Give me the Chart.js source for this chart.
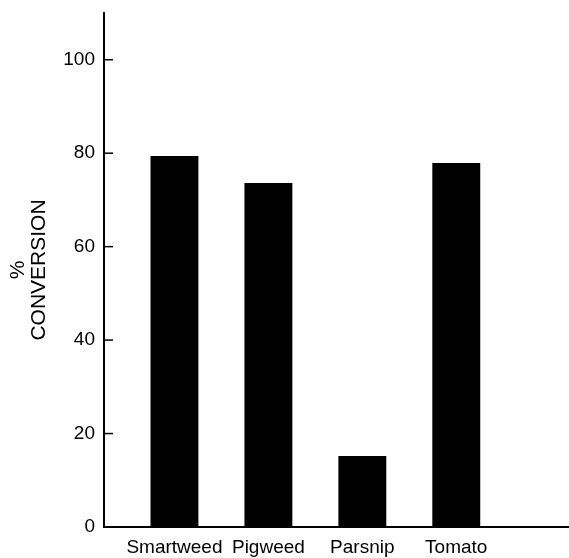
<!DOCTYPE html>
<html lang="en">
<head>
  <meta charset="UTF-8">
  <title>% Conversion</title>
  <script src="https://cdn.jsdelivr.net/npm/chart.js"></script>
  <style>
    body { margin: 0; background: #fff; }
    #wrap { width: 569px; height: 558px; }
  </style>
</head>
<body>
  <div id="wrap"><canvas id="chart"></canvas></div>

  <script>
    const categories = ["Smartweed", "Pigweed", "Parsnip", "Tomato"];
    const conversion = [79.4, 73.6, 15.2, 77.9];
    const yTicks = [0, 20, 40, 60, 80, 100];

    const FONT = "'Liberation Sans', Arial, sans-serif";

    // short tick marks drawn inward from the y axis
    const innerTicks = {
      id: "innerTicks",
      afterDraw(chart) {
        const ctx = chart.ctx;
        const y = chart.scales.y;
        const left = chart.chartArea.left;
        ctx.save();
        ctx.strokeStyle = "#000";
        ctx.lineWidth = 1.5;
        yTicks.forEach(v => {
          const py = y.getPixelForValue(v);
          ctx.beginPath();
          ctx.moveTo(left, py);
          ctx.lineTo(left + 9, py);
          ctx.stroke();
        });
        ctx.restore();
      }
    };

    new Chart(document.getElementById("chart"), {
      type: "bar",
      data: {
        datasets: [{
          data: categories.map((c, i) => ({ x: i + 1, y: conversion[i] })),
          backgroundColor: "#000",
          borderWidth: 0,
          categoryPercentage: 1,
          barPercentage: 0.51
        }]
      },
      options: {
        responsive: true,
        maintainAspectRatio: false,
        animation: false,
        layout: { padding: { top: 13, right: 0, left: 0, bottom: 0 } },
        plugins: { legend: { display: false }, tooltip: { enabled: false } },
        scales: {
          x: {
            type: "linear",
            offset: false,
            min: 0.25,
            max: 5.2,
            afterBuildTicks: s => { s.ticks = [1, 2, 3, 4].map(v => ({ value: v })); },
            afterFit: s => { s.height = 31; s.paddingLeft = 0; s.paddingRight = 0; },
            grid: { display: false, drawTicks: false, tickLength: 0 },
            border: { display: true, color: "#000", width: 2 },
            ticks: {
              autoSkip: false,
              maxRotation: 0,
              padding: 9,
              color: "#000",
              font: { family: FONT, size: 19 },
              callback: v => categories[v - 1] || ""
            }
          },
          y: {
            min: 0,
            max: 110,
            afterBuildTicks: s => { s.ticks = yTicks.map(v => ({ value: v })); },
            afterFit: s => { s.width = 104; s.paddingTop = 0; s.paddingBottom = 0; },
            grid: { display: false, drawTicks: false, tickLength: 0 },
            border: { display: true, color: "#000", width: 2 },
            ticks: {
              padding: 9,
              color: "#000",
              font: { family: FONT, size: 19 }
            },
            title: {
              display: true,
              text: ["%", "CONVERSION"],
              color: "#000",
              font: { family: FONT, size: 21, lineHeight: 1.0 },
              padding: { top: 8, bottom: 0 }
            }
          }
        }
      },
      plugins: [innerTicks]
    });
  </script>
</body>
</html>
